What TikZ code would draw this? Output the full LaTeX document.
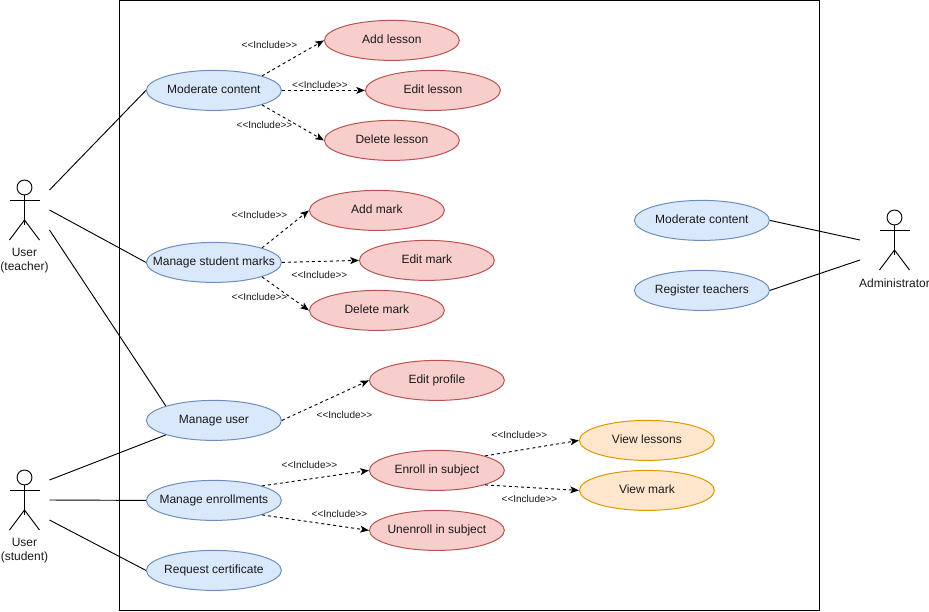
\documentclass[tikz,border=0pt]{standalone}
\usepackage{fontspec}
\setmainfont{Liberation Sans}
\usetikzlibrary{shapes.geometric,arrows.meta}
\definecolor{bluefill}{HTML}{DAE8FC}
\definecolor{bluedraw}{HTML}{6C8EBF}
\definecolor{redfill}{HTML}{F8CECC}
\definecolor{reddraw}{HTML}{B85450}
\definecolor{orangefill}{HTML}{FFE6CC}
\definecolor{orangedraw}{HTML}{D79B00}
\newcommand{\uctext}[1]{\makebox[0pt][c]{\raisebox{0.5pt}{\vphantom{Ag}#1}}}
\newcommand{\incltext}{{<}{<}Include{>}{>}}
\tikzset{
  usecase/.style={ellipse,draw,line width=0.75pt,minimum width=101.25pt,minimum height=30pt,inner sep=0pt,font=\fontsize{9}{10.5}\selectfont,text=black!90},
  bluecase/.style={usecase,fill=bluefill,draw=bluedraw},
  redcase/.style={usecase,fill=redfill,draw=reddraw},
  orangecase/.style={usecase,fill=orangefill,draw=orangedraw},
  assoc/.style={draw=black,line width=0.7pt},
  incl/.style={draw=black,line width=0.7pt,dash pattern=on 2.25pt off 2.25pt,-{Stealth[length=6.5pt,width=5.2pt,inset=1.6pt]}},
  incllabel/.style={inner sep=0pt,font=\fontsize{7.5}{9}\selectfont,text=black!90},
  actorlabel/.style={inner sep=0pt,align=center,font=\fontsize{9}{10.5}\selectfont,text=black!90},
  frame/.style={draw=black,line width=0.75pt},
  stick/.style={draw=black,line width=0.7pt},
  pics/stickman/.style={code={
    \draw[stick] (0,-22.5) circle[radius=5.6pt];
    \draw[stick] (0,-15) -- (0,15);
    \draw[stick] (-15,-10) -- (15,-10);
    \draw[stick] (-15,30) -- (0,10) -- (15,30);
  }}
}
\begin{document}
\begin{tikzpicture}[x=0.75pt,y=-0.75pt]
\useasboundingbox (0,0) rectangle (929,611);
\draw[frame] (119.5,0.5) rectangle (819.5,610.5);

% actors
\pic at (24.5,210) {stickman};
\pic at (24.5,500) {stickman};
\pic at (894.5,240) {stickman};
\node[actorlabel] (teacher) at (24.5,261) {User\\(teacher)};
\node[actorlabel] (student) at (24.5,551) {User\\(student)};
\node[actorlabel] (admin) at (894.5,283.5) {Administrator};

% free ends
\coordinate (t1) at (49.5,190);
\coordinate (t2) at (49.5,210);
\coordinate (t3) at (49.5,230);
\coordinate (s1) at (49.5,480);
\coordinate (s2) at (49.5,500);
\coordinate (s3) at (49.5,520);
\coordinate (a1) at (860,240);
\coordinate (a2) at (860,260);

% use cases
\begin{scope}[shift={(0.4,0.4)}]
\node[bluecase] (mc) at (213.5,90) {\uctext{Moderate content}};
\node[redcase] (addl) at (391.5,40) {\uctext{Add lesson}};
\node[redcase] (editl) at (432.5,90) {\uctext{Edit lesson}};
\node[redcase] (dell) at (391.5,140) {\uctext{Delete lesson}};
\node[bluecase] (msm) at (213.5,262) {\uctext{Manage student marks}};
\node[redcase] (addm) at (376.5,210) {\uctext{Add mark}};
\node[redcase] (editm) at (426.5,260) {\uctext{Edit mark}};
\node[redcase] (delm) at (376.5,310) {\uctext{Delete mark}};
\node[bluecase] (amc) at (701.5,220) {\uctext{Moderate content}};
\node[bluecase] (reg) at (701.5,290) {\uctext{Register teachers}};
\node[redcase] (prof) at (436.5,380) {\uctext{Edit profile}};
\node[bluecase] (mu) at (213.5,420) {\uctext{Manage user}};
\node[bluecase] (me) at (213.5,500) {\uctext{Manage enrollments}};
\node[redcase] (enr) at (436.5,470) {\uctext{Enroll in subject}};
\node[redcase] (unenr) at (436.5,530) {\uctext{Unenroll in subject}};
\node[orangecase] (vl) at (646.5,440) {\uctext{View lessons}};
\node[orangecase] (vm) at (646.5,490) {\uctext{View mark}};
\node[bluecase] (rc) at (213.5,570) {\uctext{Request certificate}};
\end{scope}

% associations
\draw[assoc] (t1) -- (mc.west);
\draw[assoc] (t2) -- (msm.west);
\draw[assoc] (t3) -- (mu.north west);
\draw[assoc] (s1) -- (mu.south west);
\draw[assoc] (s2) -- (me.west);
\draw[assoc] (s3) -- (rc.west);
\draw[assoc] (amc.east) -- (a1);
\draw[assoc] (reg.east) -- (a2);

% includes
\draw[incl] (mc.north east) -- (addl.west);
\draw[incl] (mc.east) -- (editl.west);
\draw[incl] (mc.south east) -- (dell.west);
\draw[incl] (msm.north east) -- (addm.west);
\draw[incl] (msm.east) -- (editm.west);
\draw[incl] (msm.south east) -- (delm.west);
\draw[incl] (mu.east) -- (prof.west);
\draw[incl] (me.north east) -- (enr.west);
\draw[incl] (me.south east) -- (unenr.west);
\draw[incl] (enr.north east) -- (vl.west);
\draw[incl] (enr.south east) -- (vm.west);

% labels
\node[incllabel] (i1) at (269.5,44.5) {\incltext};
\node[incllabel] (i2) at (320,84.5) {\incltext};
\node[incllabel] (i3) at (264.5,124.5) {\incltext};
\node[incllabel] (i4) at (259.5,214.5) {\incltext};
\node[incllabel] (i5) at (319.5,274.5) {\incltext};
\node[incllabel] (i6) at (259.5,296.5) {\incltext};
\node[incllabel] (i7) at (344.5,414.5) {\incltext};
\node[incllabel] (i8) at (309.5,464.5) {\incltext};
\node[incllabel] (i9) at (339.5,513.5) {\incltext};
\node[incllabel] (i10) at (519.5,434.5) {\incltext};
\node[incllabel] (i11) at (529.5,498.5) {\incltext};
\end{tikzpicture}
\end{document}
